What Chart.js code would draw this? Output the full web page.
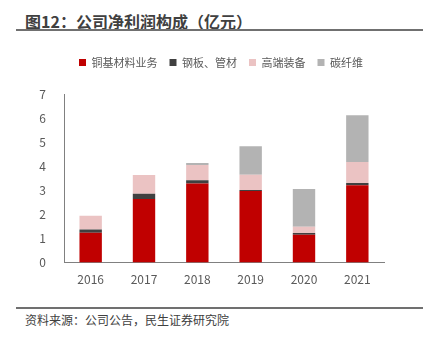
<!DOCTYPE html>
<html>
<head>
<meta charset="utf-8">
<script src="https://cdn.jsdelivr.net/npm/chart.js@4/dist/chart.umd.min.js"></script>
<style>
  html, body { margin: 0; padding: 0; background: #fff; }
  body { width: 427px; height: 337px; position: relative; overflow: hidden; font-family: "Noto Sans CJK SC", "Noto Sans", sans-serif; }
  .title { position: absolute; left: 25px; top: 9px; font-size: 16px; font-weight: bold; color: #404040; }
  .rule { position: absolute; left: 16px; width: 407px; height: 2px; background: #707070; }
  .source { position: absolute; left: 25px; top: 311px; font-size: 12px; color: #404040; }
  .box { position: absolute; left: 20px; top: 45px; width: 402px; height: 244px; }
</style>
</head>
<body>
<div class="title">图12：公司净利润构成（亿元）</div>
<div class="rule" style="top:29px"></div>
<div class="box"><canvas id="chartProfit"></canvas></div>
<div class="rule" style="top:307px"></div>
<div class="source">资料来源：公司公告，民生证券研究院</div>
<script>
const years = ['2016', '2017', '2018', '2019', '2020', '2021'];
const copper = [1.24, 2.64, 3.28, 2.97, 1.16, 3.21];
const steel = [0.13, 0.22, 0.14, 0.04, 0.07, 0.10];
const equipment = [0.57, 0.78, 0.63, 0.64, 0.26, 0.87];
const carbon = [0, 0, 0.09, 1.18, 1.57, 1.94];
const yTicks = [0, 1, 2, 3, 4, 5, 6, 7];

// extra room under the legend
const legendGap = {
    id: 'legendGap',
    beforeInit(chart) {
        const fit = chart.legend.fit;
        chart.legend.fit = function () {
            fit.bind(chart.legend)();
            this.height += 16;
        };
    }
};

document.addEventListener("DOMContentLoaded", function () {
    const font = { family: '"Noto Sans CJK SC", "Noto Sans", sans-serif', size: 11 };
    const tickFont = { family: '"Noto Sans CJK SC", "Noto Sans", sans-serif', size: 12 };
    new Chart(document.getElementById('chartProfit'), {
        type: 'bar',
        data: {
            labels: years,
            datasets: [
                { label: '铜基材料业务', data: copper, backgroundColor: '#C00000' },
                { label: '钢板、管材', data: steel, backgroundColor: '#404040' },
                { label: '高端装备', data: equipment, backgroundColor: '#EBC3C3' },
                { label: '碳纤维', data: carbon, backgroundColor: '#B3B3B3' }
            ]
        },
        plugins: [legendGap],
        options: {
            responsive: true,
            maintainAspectRatio: false,
            animation: false,
            datasets: { bar: { barPercentage: 0.42, categoryPercentage: 1 } },
            layout: { padding: 0 },
            plugins: {
                tooltip: { enabled: false },
                legend: {
                    position: 'top',
                    labels: { boxWidth: 7, boxHeight: 7, padding: 12, color: '#595959', font: font }
                }
            },
            scales: {
                x: {
                    stacked: true,
                    grid: { display: false },
                    border: { color: '#808080', width: 1 },
                    ticks: { color: '#595959', font: tickFont, padding: 2 }
                },
                y: {
                    stacked: true,
                    min: 0,
                    max: 7,
                    afterBuildTicks: function (axis) { axis.ticks = yTicks.map(v => ({ value: v })); },
                    afterFit: function (axis) { axis.width = 44; },
                    grid: { display: false },
                    border: { color: '#808080', width: 1 },
                    ticks: { color: '#595959', font: tickFont, padding: 10 }
                },
                spacer: {
                    position: 'right',
                    afterFit: function (axis) { axis.width = 38; },
                    grid: { display: false },
                    border: { display: false },
                    ticks: { display: false }
                }
            }
        }
    });
});
</script>
</body>
</html>
